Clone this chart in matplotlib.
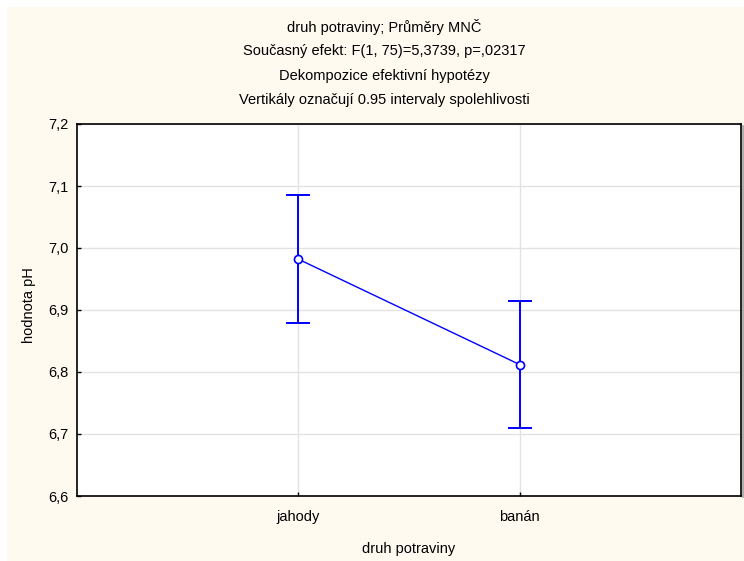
import matplotlib
matplotlib.use("Agg")
import matplotlib.pyplot as plt
from matplotlib.patches import Rectangle

plt.rcParams['font.family'] = ['Liberation Sans', 'DejaVu Sans']

# Least-squares means of pH with 0.95 confidence intervals
categories = ["jahody", "banán"]
means = [6.982, 6.812]
ci_low = [6.879, 6.709]
ci_high = [7.085, 6.915]

y_ticks = [6.6, 6.7, 6.8, 6.9, 7.0, 7.1, 7.2]
y_tick_labels = ["6,6", "6,7", "6,8", "6,9", "7,0", "7,1", "7,2"]

title_lines = [
    "druh potraviny; Průměry MNČ",
    "Současný efekt: F(1, 75)=5,3739, p=,02317",
    "Dekompozice efektivní hypotézy",
    "Vertikály označují 0.95 intervaly spolehlivosti",
]

W, H = 744, 561
FS = 10.5
fig = plt.figure(figsize=(W / 100, H / 100), dpi=100, facecolor="white")

# cream page background
fig.patches.append(Rectangle((7 / W, 0), 1 - 7 / W, 1 - 7 / H,
                             transform=fig.transFigure, facecolor="#FFFAF0",
                             edgecolor="none", zorder=-10))

left, right, top, bottom = 77, 741, 124, 496
ax = fig.add_axes([left / W, 1 - bottom / H, (right - left) / W, (bottom - top) / H])
ax.set_zorder(1)
ax.set_facecolor("white")

x = [1, 2]
err_low = [m - l for m, l in zip(means, ci_low)]
err_high = [h - m for m, h in zip(means, ci_high)]

ax.plot(x, means, color="#0000FF", lw=1.0, zorder=3)
ax.errorbar(x, means, yerr=[err_low, err_high], fmt="none", ecolor="#0000FF",
            elinewidth=1.4, capsize=8.3, capthick=1.4, zorder=3)
ax.plot(x, means, linestyle="none", marker="o", markersize=5.8,
        markerfacecolor="white", markeredgecolor="#0000FF", markeredgewidth=1.2,
        zorder=4)

ax.set_xlim(0, 3)
ax.set_ylim(6.6, 7.2)
ax.set_xticks(x)
ax.set_xticklabels(categories)
ax.set_yticks(y_ticks)
ax.set_yticklabels(y_tick_labels)

ax.grid(True, color="#E3E3E3", lw=1.0, zorder=0)
ax.set_axisbelow(True)
ax.tick_params(direction="in", length=3, width=1, labelsize=FS,
               colors="black", pad=6)
ax.tick_params(axis="x", pad=10)
for s in ax.spines.values():
    s.set_color("black")
    s.set_linewidth(1.2)

# soft shadow along the right edge of the frame
fig.add_artist(plt.Line2D([(right + 2) / W] * 2, [1 - (bottom + 1) / H, 1 - (top + 2) / H],
                          transform=fig.transFigure, color="#A0A0A0", lw=1.2, zorder=0))

ax.set_xlabel("druh potraviny", fontsize=FS, labelpad=13)
fig.text(29 / W, 1 - 305 / H, "hodnota pH", rotation=90, ha="center",
         va="center", fontsize=FS)

for i, line in enumerate(title_lines):
    fig.text(384 / W, 1 - (27 + 24.3 * i) / H, line, ha="center", va="center",
             fontsize=FS)

fig.savefig("out.png", dpi=100, facecolor=fig.get_facecolor())
